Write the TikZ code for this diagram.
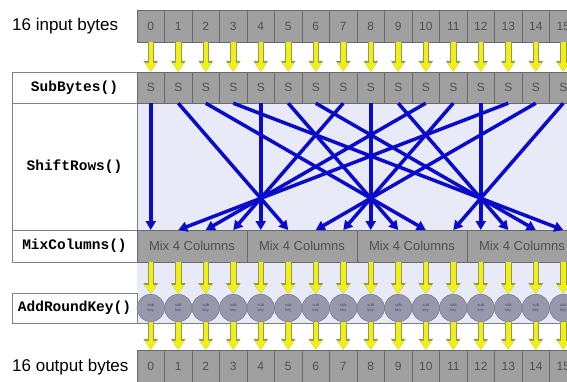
\documentclass[tikz,border=0pt]{standalone}
\usepackage{fontspec}
\setmainfont{Liberation Sans}
\setmonofont{Liberation Mono}
\definecolor{CellGray}{RGB}{160,160,160}
\definecolor{CellEdge}{RGB}{105,105,105}
\definecolor{CellText}{RGB}{80,80,80}
\definecolor{ArrowYellow}{RGB}{240,240,20}
\definecolor{ArrowEdge}{RGB}{150,150,95}
\definecolor{WireBlue}{RGB}{10,10,205}
\definecolor{Lavender}{RGB}{232,234,248}
\definecolor{KeyGray}{RGB}{152,152,172}
\definecolor{KeyEdge}{RGB}{110,110,130}
\definecolor{KeyText}{RGB}{70,70,110}
\usetikzlibrary{arrows.meta, positioning, calc}

\begin{document}
\begin{tikzpicture}[x=1pt, y=-1pt,
  cell/.style={draw=CellEdge, fill=CellGray, text=CellText, minimum width=27.5pt,
    minimum height=32pt, inner sep=0pt, font=\fontsize{12}{14}\selectfont},
  mixbox/.style={cell, minimum width=110pt, font=\fontsize{13}{15}\selectfont},
  fnbox/.style={draw=gray, fill=white, minimum width=125pt, inner sep=0pt,
    font=\ttfamily\bfseries\fontsize{14.5}{16}\selectfont},
  rowlabel/.style={anchor=west, inner sep=0pt, font=\fontsize{17}{20}\selectfont},
  keybyte/.style={circle, draw=KeyEdge, fill=KeyGray, text=KeyText, minimum size=27.5pt,
    inner sep=0pt, align=center, font=\fontsize{4}{4.5}\selectfont},
  fatarrow/.style={draw=ArrowYellow, line width=4.5pt,
    -{Triangle[width=11pt, length=9pt]},
    preaction={draw=ArrowEdge, line width=6.5pt, -{Triangle[width=14pt, length=11pt]}}},
  wire/.style={draw=WireBlue, line width=3.5pt, -{Triangle[width=10pt, length=9pt]}}]

  \clip (0,0) rectangle (567,382);

  % shaded bands behind the byte columns
  \fill[Lavender] (137,103) rectangle (567,230);
  \fill[Lavender] (137,262) rectangle (567,323);
  \draw[gray] (12,323) -- (567,323);

  % step names
  \node[rowlabel] (inlabel) at (12,26) {16 input bytes};
  \node[fnbox, minimum height=31pt] (subbytes) at (74.5,87.5) {SubBytes()};
  \node[fnbox, minimum height=127pt] (shiftrows) at (74.5,166.5) {ShiftRows()};
  \node[fnbox, minimum height=32pt] (mixcolumns) at (74.5,246) {MixColumns()};
  \node[fnbox, minimum height=30pt] (addroundkey) at (74.5,308) {AddRoundKey()};
  \node[rowlabel] (outlabel) at (12,367) {16 output bytes};

  % byte rows
  \foreach \i in {0,...,15} {
    \node[cell] (in\i) at ({150.75+27.5*\i},26) {\i};
    \node[cell, minimum height=31pt] (sb\i) at ({150.75+27.5*\i},87.5) {S};
    \coordinate (mt\i) at ({150.75+27.5*\i},230);
    \coordinate (mb\i) at ({150.75+27.5*\i},262);
    \node[keybyte] (key\i) at ({150.75+27.5*\i},308) {sub\\key};
    \node[cell] (out\i) at ({150.75+27.5*\i},366) {\i};
  }
  \foreach \c in {0,...,3}
    \node[mixbox] (mix\c) at ({192+110*\c},246) {Mix 4 Columns};

  % yellow byte arrows
  \foreach \i in {0,...,15} {
    \draw[fatarrow] (in\i) -- (sb\i);
    \draw[fatarrow] (mb\i) -- (key\i);
    \draw[fatarrow] (key\i) -- (out\i);
  }

  % ShiftRows wiring
  \foreach \c in {0,...,3}
    \foreach \r in {0,...,3} {
      \pgfmathtruncatemacro{\dst}{4*\c+\r}
      \pgfmathtruncatemacro{\src}{4*mod(\c-\r+4,4)+\r}
      \draw[wire] (sb\src.south) -- (mt\dst);
    }
\end{tikzpicture}
\end{document}
